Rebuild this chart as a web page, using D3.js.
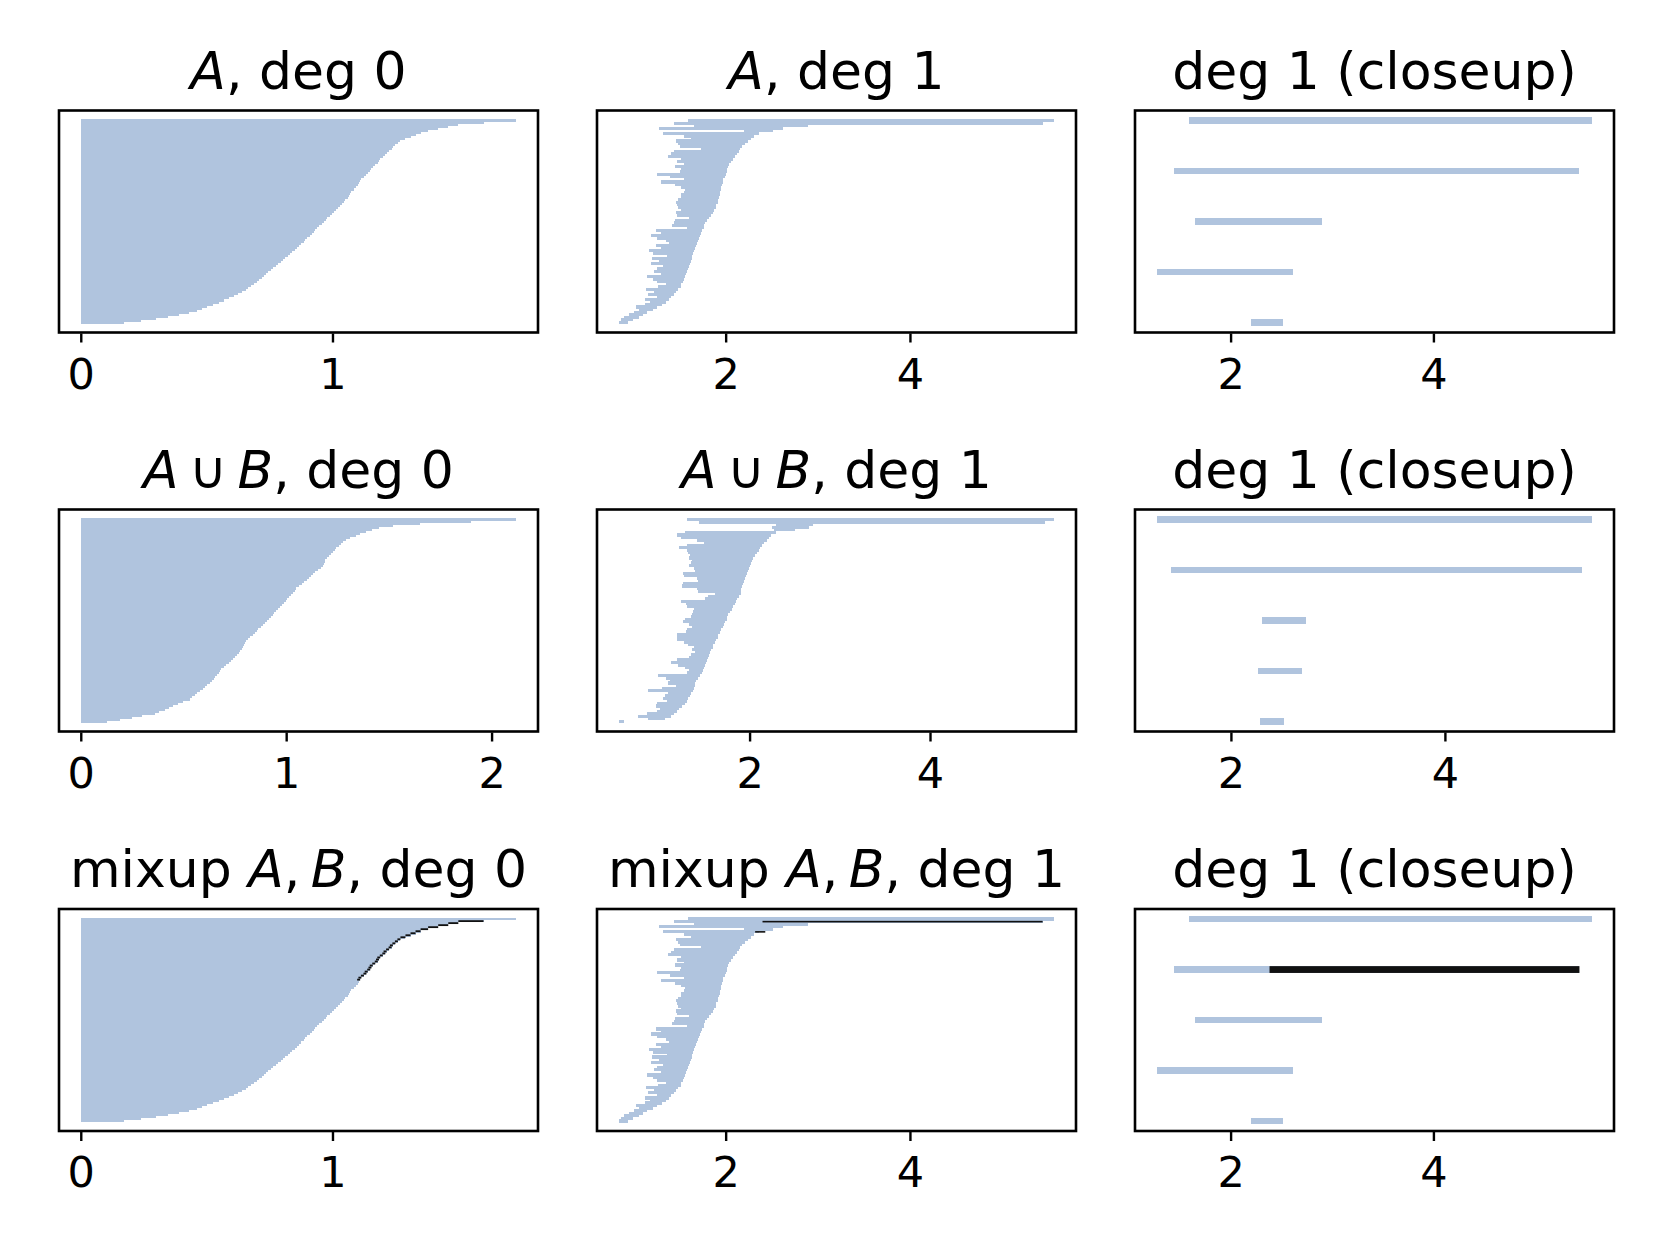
<!DOCTYPE html>
<html><head><meta charset="utf-8">
<script src="https://cdn.jsdelivr.net/npm/d3@7"></script>
<style>body{margin:0;background:#fff} svg{display:block}</style>
</head><body>
<svg id="c" width="1660" height="1245"></svg>
<script>
// ---------- data ----------
// deg 0 barcodes: every bar is born at 0, listed by decreasing death
const aDeg0Deaths = [1.73,1.60,1.50,1.46,1.42,1.38,1.35,1.33,1.31,1.29,
 1.27,1.26,1.25,1.24,1.235,1.225,1.215,1.21,1.20,1.19,
 1.185,1.18,1.17,1.16,1.155,1.15,1.14,1.135,1.125,1.115,
 1.11,1.105,1.10,1.095,1.085,1.075,1.07,1.065,1.06,1.05,
 1.045,1.037,1.03,1.02,1.012,1.005,0.997,0.99,0.98,0.973,
 0.965,0.957,0.948,0.94,0.932,0.925,0.917,0.91,0.90,0.892,
 0.885,0.875,0.866,0.858,0.85,0.84,0.832,0.822,0.813,0.803,
 0.795,0.785,0.775,0.765,0.755,0.745,0.737,0.728,0.72,0.71,
 0.70,0.69,0.678,0.666,0.655,0.64,0.625,0.608,0.59,0.57,
 0.55,0.525,0.50,0.48,0.46,0.43,0.39,0.345,0.30,0.24,
 0.17];
const abDeg0Deaths = [2.12,1.90,1.65,1.52,1.45,1.42,1.39,1.36,1.34,1.31,
 1.29,1.275,1.265,1.255,1.245,1.24,1.23,1.22,1.21,1.20,
 1.19,1.19,1.185,1.18,1.17,1.155,1.14,1.13,1.12,1.11,
 1.10,1.085,1.075,1.06,1.05,1.045,1.035,1.025,1.015,1.005,
 1.00,0.99,0.98,0.97,0.96,0.95,0.94,0.935,0.925,0.915,
 0.905,0.895,0.885,0.875,0.865,0.86,0.85,0.84,0.825,0.815,
 0.805,0.80,0.795,0.79,0.785,0.775,0.77,0.76,0.75,0.74,
 0.73,0.72,0.705,0.695,0.685,0.68,0.675,0.665,0.655,0.65,
 0.64,0.63,0.615,0.605,0.595,0.58,0.565,0.555,0.54,0.53,
 0.50,0.475,0.45,0.43,0.41,0.38,0.36,0.30,0.25,0.19,
 0.13];
// deg 1 barcodes: births and deaths, listed by decreasing death
const aDeg1Births = [1.591,1.437,1.652,1.272,2.197,1.32,1.55,1.62,1.46,1.48,
 1.50,1.73,1.44,1.41,1.37,1.52,1.47,1.55,1.45,1.52,
 1.50,1.26,1.40,1.55,1.30,1.45,1.51,1.56,1.55,1.51,
 1.52,1.48,1.46,1.47,1.48,1.52,1.46,1.47,1.60,1.45,
 1.44,1.42,1.58,1.24,1.30,1.19,1.26,1.35,1.38,1.24,
 1.30,1.17,1.21,1.36,1.20,1.28,1.19,1.32,1.26,1.22,
 1.30,1.15,1.21,1.26,1.35,1.27,1.14,1.22,1.16,1.25,
 1.13,1.18,1.12,1.03,1.06,1.00,0.95,0.90,0.86,0.84];
const aDeg1Deaths = [5.566,5.44,2.898,2.62,2.516,2.36,2.31,2.27,2.24,2.21,
 2.18,2.16,2.14,2.12,2.10,2.08,2.06,2.04,2.03,2.02,
 2.01,2.00,1.99,1.975,1.97,1.96,1.95,1.95,1.94,1.94,
 1.93,1.92,1.915,1.90,1.89,1.875,1.86,1.84,1.82,1.80,
 1.78,1.77,1.76,1.745,1.73,1.72,1.71,1.70,1.69,1.68,
 1.67,1.66,1.65,1.64,1.63,1.62,1.61,1.60,1.59,1.58,
 1.57,1.56,1.55,1.54,1.52,1.51,1.48,1.46,1.44,1.41,
 1.39,1.35,1.31,1.26,1.21,1.15,1.10,1.06,0.99,0.94];
const abDeg1Births = [1.307,1.444,2.293,2.254,2.274,1.28,1.20,1.24,1.42,1.50,
 1.31,1.22,1.31,1.32,1.34,1.33,1.36,1.35,1.33,1.38,
 1.39,1.26,1.27,1.42,1.43,1.26,1.25,1.42,1.43,1.62,
 1.54,1.51,1.24,1.29,1.31,1.38,1.37,1.36,1.35,1.28,
 1.26,1.33,1.36,1.31,1.29,1.19,1.20,1.19,1.27,1.32,
 1.38,1.36,1.39,1.35,1.33,1.20,1.13,1.21,1.28,1.33,
 1.31,0.98,1.07,1.12,1.10,1.18,1.03,0.87,1.10,1.06,
 1.04,1.08,0.97,0.96,1.01,0.97,0.86,0.76,0.87,0.55];
const abDeg1Deaths = [5.377,5.28,2.703,2.664,2.498,2.29,2.24,2.21,2.19,2.16,
 2.14,2.12,2.10,2.08,2.06,2.04,2.03,2.015,2.00,1.99,
 1.98,1.97,1.955,1.945,1.935,1.93,1.92,1.91,1.905,1.90,
 1.88,1.865,1.85,1.835,1.82,1.80,1.78,1.765,1.755,1.745,
 1.73,1.715,1.70,1.685,1.67,1.655,1.645,1.63,1.615,1.60,
 1.59,1.575,1.56,1.545,1.54,1.53,1.52,1.51,1.50,1.485,
 1.47,1.45,1.43,1.41,1.40,1.39,1.385,1.37,1.35,1.335,
 1.32,1.305,1.28,1.255,1.22,1.195,1.165,1.13,1.06,0.61];
// closeup = the five longest-lived deg 1 bars
const closeupCount = 5;
// mixup overlays (black): deg 0 bars whose tips are marked, deg 1 segments [index, birth, death]
const mixDeg0BlackIdx = [1,2,3,4,5,6,7,8,9,10,11,12,13,14,15,16,17,18,19,20,21,22,23,24,25,26,27,28,29,30];
const mixDeg0BlackTip = 0.012;
const mixDeg1Black = [[1, 2.40, 5.44], [5, 2.32, 2.43]];
const mixCloseBlack = [[1, 2.384, 5.44]];
// tick labels
const ticksA0 = [0, 1];
const ticksAB0 = [0, 1, 2];
const ticksDeg1 = [2, 4];

// ---------- layout ----------
const svg = d3.select("#c");
const COLOR = "#b0c4de";
const FONT = "DejaVu Sans, sans-serif";
const panelW = 479, panelH = 222;
const colX = [59, 597, 1135];
const rowY = [110.5, 509.5, 909];

function drawPanel(col, row, cfg) {
  const g = svg.append("g").attr("transform", `translate(${colX[col]},${rowY[row]})`);
  const n = cfg.deaths.length;
  const births = cfg.births || cfg.deaths.map(() => 0);
  const lo = d3.min(births), hi = d3.max(cfg.deaths), R = hi - lo;
  const x = d3.scaleLinear().domain([lo - 0.05 * R, hi + 0.05 * R]).range([0, panelW]);
  const y = d3.scaleLinear().domain([-0.05 * (n - 1), 1.05 * (n - 1)]).range([0, panelH]);
  const bars = d3.range(n).map(i => ({i, b: births[i], d: cfg.deaths[i]}));
  g.append("g").selectAll("rect").data(bars).join("rect")
    .attr("x", d => x(d.b)).attr("width", d => x(d.d) - x(d.b))
    .attr("y", d => y(d.i) - cfg.t / 2).attr("height", cfg.t)
    .attr("fill", COLOR).attr("shape-rendering", "crispEdges");
  if (cfg.black) {
    g.append("g").selectAll("rect").data(cfg.black).join("rect")
      .attr("x", d => x(d[1])).attr("width", d => x(d[2]) - x(d[1]))
      .attr("y", d => y(d[0]) - cfg.bt / 2).attr("height", cfg.bt)
      .attr("fill", "#111");
  }
  g.append("rect").attr("x", 0).attr("y", 0).attr("width", panelW).attr("height", panelH)
    .attr("fill", "none").attr("stroke", "#000").attr("stroke-width", 2.6);
  const ax = g.append("g").attr("transform", `translate(0,${panelH})`)
    .call(d3.axisBottom(x).tickValues(cfg.ticks).tickSize(10).tickFormat(d3.format("d")));
  ax.select(".domain").remove();
  ax.selectAll(".tick line").attr("stroke", "#000").attr("stroke-width", 2.4).attr("y1", 1);
  ax.selectAll(".tick text").attr("y", 56).attr("dy", 0)
    .attr("font-family", FONT).attr("font-size", 43).attr("fill", "#000");
  const t = g.append("text").attr("x", panelW / 2).attr("y", -22).attr("text-anchor", "middle")
    .attr("font-family", FONT).attr("font-size", 52).attr("fill", "#000");
  cfg.title.forEach(p => t.append("tspan").text(p[0]).attr("font-style", p[1] ? "italic" : "normal"));
}

const deg0T = 2.6, deg1T = 3.2, closeT = 6.8;
const tA0 = [["A", 1], [", deg 0", 0]], tA1 = [["A", 1], [", deg 1", 0]];
const tAB0 = [["A", 1], ["\u2009\u222A\u2009", 0], ["B", 1], [", deg 0", 0]];
const tAB1 = [["A", 1], ["\u2009\u222A\u2009", 0], ["B", 1], [", deg 1", 0]];
const tM0 = [["mixup ", 0], ["A", 1], [",\u2009", 0], ["B", 1], [", deg 0", 0]];
const tM1 = [["mixup ", 0], ["A", 1], [",\u2009", 0], ["B", 1], [", deg 1", 0]];
const tC = [["deg 1 (closeup)", 0]];

// row 1: A
drawPanel(0, 0, {deaths: aDeg0Deaths, t: deg0T, ticks: ticksA0, title: tA0});
drawPanel(1, 0, {births: aDeg1Births, deaths: aDeg1Deaths, t: deg1T, ticks: ticksDeg1, title: tA1});
drawPanel(2, 0, {births: aDeg1Births.slice(0, closeupCount), deaths: aDeg1Deaths.slice(0, closeupCount), t: closeT, ticks: ticksDeg1, title: tC});
// row 2: A ∪ B
drawPanel(0, 1, {deaths: abDeg0Deaths, t: deg0T, ticks: ticksAB0, title: tAB0});
drawPanel(1, 1, {births: abDeg1Births, deaths: abDeg1Deaths, t: deg1T, ticks: ticksDeg1, title: tAB1});
drawPanel(2, 1, {births: abDeg1Births.slice(0, closeupCount), deaths: abDeg1Deaths.slice(0, closeupCount), t: closeT, ticks: ticksDeg1, title: tC});
// row 3: mixup (black marks the edge of the marked deg 0 bars, covering each step)
const mix0Black = mixDeg0BlackIdx.map(i => [i, Math.min(aDeg0Deaths[i] - mixDeg0BlackTip, aDeg0Deaths[i + 1]), aDeg0Deaths[i]]);
drawPanel(0, 2, {deaths: aDeg0Deaths, t: deg0T, ticks: ticksA0, title: tM0, black: mix0Black, bt: 1.8});
drawPanel(1, 2, {births: aDeg1Births, deaths: aDeg1Deaths, t: deg1T, ticks: ticksDeg1, title: tM1, black: mixDeg1Black, bt: 1.6});
drawPanel(2, 2, {births: aDeg1Births.slice(0, closeupCount), deaths: aDeg1Deaths.slice(0, closeupCount), t: closeT, ticks: ticksDeg1, title: tC, black: mixCloseBlack, bt: closeT});
</script>
</body></html>
